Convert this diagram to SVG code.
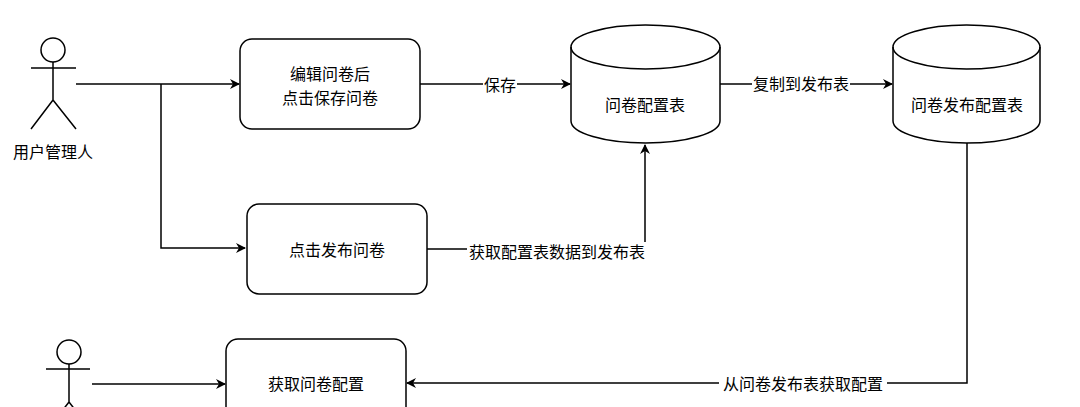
<svg xmlns="http://www.w3.org/2000/svg" width="1080" height="407" viewBox="0 0 1080 407">
<style>
.s{fill:#fff;stroke:#000;stroke-width:1.5}
.l{fill:none;stroke:#000;stroke-width:1.5}
text{font-family:"Noto Sans CJK SC","Liberation Sans",sans-serif;font-size:16px;fill:#000;text-anchor:middle;dominant-baseline:central}
.bg{fill:#fff}
</style>
<defs><marker id="a" markerWidth="10" markerHeight="10" refX="9" refY="5" orient="auto" markerUnits="userSpaceOnUse"><path d="M0,0 L10,5 L0,10 L3,5 Z" fill="#000"/></marker></defs>
<rect width="1080" height="407" fill="#fff"/>
<g id="actor1" class="l"><circle cx="53" cy="50" r="12" class="s"/><path d="M53 62V100M31 68H76M53 100L31 129M53 100L76 129"/></g>
<text x="53" y="151">用户管理人</text>
<g id="actor2" class="l"><circle cx="69" cy="352" r="12" class="s"/><path d="M69 364V402M46 369H90M69 402L55 420M69 402L83 420"/></g>
<g id="connectors" class="l">
<path d="M76 84H239" marker-end="url(#a)"/>
<path d="M161 84V248H245" marker-end="url(#a)"/>
<path d="M420 84H570" marker-end="url(#a)"/>
<path d="M720 84H892" marker-end="url(#a)"/>
<path d="M427 249H645V145" marker-end="url(#a)"/>
<path d="M967 143V383H407" marker-end="url(#a)"/>
<path d="M92 384H225" marker-end="url(#a)"/>
</g>
<rect class="bg" x="483" y="75" width="34" height="18"/><text x="500" y="84">保存</text>
<rect class="bg" x="752" y="74" width="98" height="18"/><text x="801" y="83">复制到发布表</text>
<rect class="bg" x="467" y="242" width="180" height="18"/><text x="557" y="251">获取配置表数据到发布表</text>
<rect class="bg" x="719" y="374" width="168" height="18"/><text x="803" y="383">从问卷发布表获取配置</text>
<g id="box1"><rect class="s" x="240" y="39" width="180" height="90" rx="12"/><text x="330" y="73">编辑问卷后</text><text x="330" y="97">点击保存问卷</text></g>
<g id="box2"><rect class="s" x="247" y="204" width="180" height="90" rx="12"/><text x="337" y="249">点击发布问卷</text></g>
<g id="box3"><rect class="s" x="226" y="339" width="180" height="90" rx="12"/><text x="316" y="383">获取问卷配置</text></g>
<g id="db1"><path class="s" d="M571 47A74.5 22 0 0 1 720 47V121A74.5 22 0 0 1 571 121Z"/><path class="l" d="M571 47A74.5 22 0 0 0 720 47"/><text x="645" y="104">问卷配置表</text></g>
<g id="db2"><path class="s" d="M893 47A73.5 22 0 0 1 1040 47V121A73.5 22 0 0 1 893 121Z"/><path class="l" d="M893 47A73.5 22 0 0 0 1040 47"/><text x="967" y="104">问卷发布配置表</text></g>
</svg>
